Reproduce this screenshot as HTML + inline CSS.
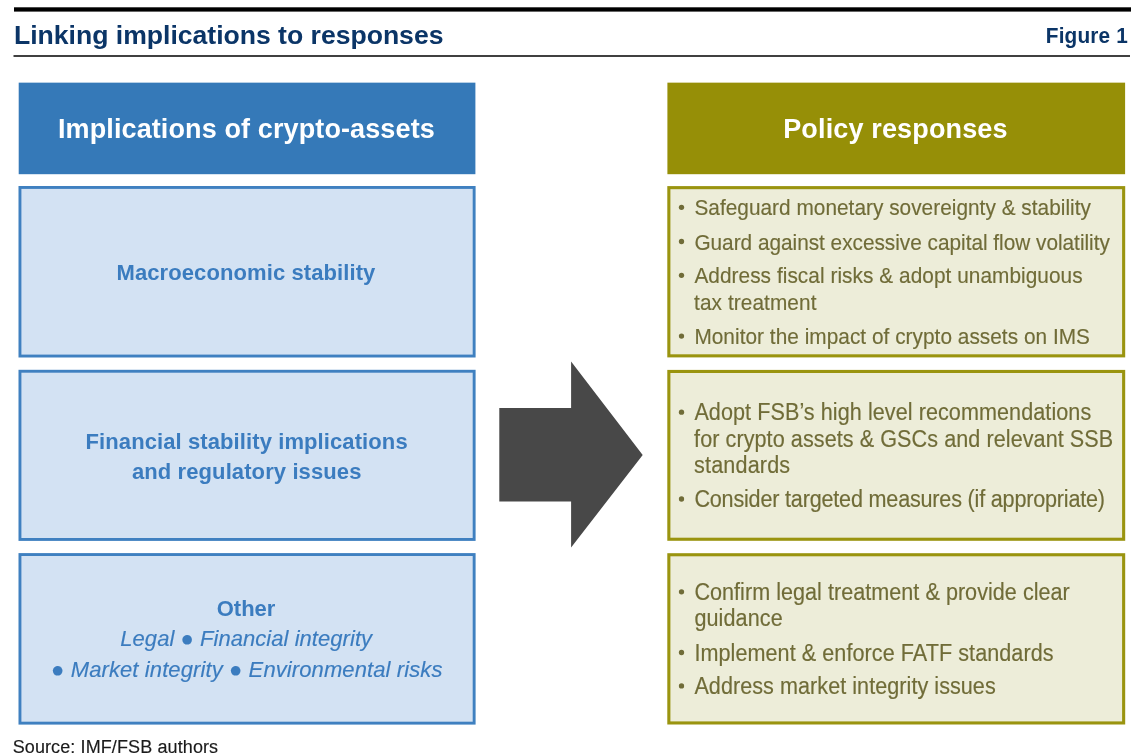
<!DOCTYPE html>
<html><head><meta charset="utf-8"><title>Linking implications to responses</title>
<style>
html,body{margin:0;padding:0;background:#fff;}
body{width:1140px;height:755px;overflow:hidden;}
svg{display:block;will-change:transform;font-family:"Liberation Sans",sans-serif;}
</style></head><body>
<svg width="1140" height="755" viewBox="0 0 1140 755">
<rect x="14.00" y="7.30" width="1117.00" height="4.30" fill="#000"/>
<rect x="13.50" y="55.00" width="1116.50" height="2.00" fill="#404040"/>
<rect x="18.70" y="82.65" width="456.70" height="91.55" fill="#3579b8"/>
<rect x="667.40" y="82.65" width="457.70" height="91.55" fill="#968f07"/>
<rect x="19.95" y="187.45" width="454.20" height="168.60" fill="#d3e2f3" stroke="#3f80c0" stroke-width="2.9"/>
<rect x="668.85" y="187.65" width="454.80" height="168.20" fill="#ededd9" stroke="#9a940f" stroke-width="3.1"/>
<rect x="19.95" y="371.25" width="454.20" height="168.20" fill="#d3e2f3" stroke="#3f80c0" stroke-width="2.9"/>
<rect x="668.85" y="371.45" width="454.80" height="167.80" fill="#ededd9" stroke="#9a940f" stroke-width="3.1"/>
<rect x="19.95" y="554.55" width="454.20" height="168.60" fill="#d3e2f3" stroke="#3f80c0" stroke-width="2.9"/>
<rect x="668.85" y="554.75" width="454.80" height="168.20" fill="#ededd9" stroke="#9a940f" stroke-width="3.1"/>
<polygon points="499.3,407.9 571.1,407.9 571.1,361.6 642.7,455.0 571.1,547.5 571.1,501.6 499.3,501.6" fill="#484848"/>
<text id="head" x="14.00" y="43.6" font-size="26.6" fill="#0b3567" font-weight="bold" textLength="429.47" lengthAdjust="spacing">Linking implications to responses</text>
<text id="fig" x="1045.80" y="43.5" font-size="20.8" fill="#0b3567" font-weight="bold" textLength="82.01" lengthAdjust="spacing" transform="matrix(1,0,0,1.05,0,-2.175)">Figure 1</text>
<text id="lh" x="57.92" y="138.3" font-size="27" fill="#ffffff" font-weight="bold" textLength="376.84" lengthAdjust="spacing">Implications of crypto-assets</text>
<text id="ph" x="783.22" y="138.3" font-size="27" fill="#ffffff" font-weight="bold" textLength="224.35" lengthAdjust="spacing">Policy responses</text>
<text id="l1" x="116.52" y="279.6" font-size="22" fill="#3b7cbf" font-weight="bold" textLength="258.82" lengthAdjust="spacing">Macroeconomic stability</text>
<text id="l2a" x="85.52" y="449.1" font-size="22" fill="#3b7cbf" font-weight="bold" textLength="322.14" lengthAdjust="spacing">Financial stability implications</text>
<text id="l2b" x="131.89" y="479.0" font-size="22" fill="#3b7cbf" font-weight="bold" textLength="229.53" lengthAdjust="spacing">and regulatory issues</text>
<text id="l3a" x="216.75" y="616.3" font-size="22" fill="#3b7cbf" font-weight="bold" textLength="58.67" lengthAdjust="spacing">Other</text>
<text id="l3b" x="120.28" y="646.2" font-size="22" fill="#3b7cbf" font-style="italic" stroke="#3b7cbf" stroke-width="0.15" textLength="251.76" lengthAdjust="spacing">Legal ● Financial integrity</text>
<text id="l3c" x="51.11" y="676.6" font-size="22" fill="#3b7cbf" font-style="italic" stroke="#3b7cbf" stroke-width="0.15" textLength="391.31" lengthAdjust="spacing">● Market integrity ● Environmental risks</text>
<text id="src" x="12.68" y="753.2" font-size="18" fill="#1a1a1a" stroke="#1a1a1a" stroke-width="0.15" textLength="205.42" lengthAdjust="spacing">Source: IMF/FSB authors</text>
<text id="r0" x="694.40" y="215.5" font-size="20.8" fill="#706c38" stroke="#706c38" stroke-width="0.15" textLength="396.54" lengthAdjust="spacing" transform="matrix(1,0,0,1.07,0,-15.085)">Safeguard monetary sovereignty &amp; stability</text>
<text id="r1" x="694.40" y="249.7" font-size="20.8" fill="#706c38" stroke="#706c38" stroke-width="0.15" textLength="415.48" lengthAdjust="spacing" transform="matrix(1,0,0,1.07,0,-17.479)">Guard against excessive capital flow volatility</text>
<text id="r2" x="694.40" y="283.5" font-size="20.8" fill="#706c38" stroke="#706c38" stroke-width="0.15" textLength="388.23" lengthAdjust="spacing" transform="matrix(1,0,0,1.07,0,-19.845)">Address fiscal risks &amp; adopt unambiguous</text>
<text id="r3" x="694.10" y="310.1" font-size="20.8" fill="#706c38" stroke="#706c38" stroke-width="0.15" textLength="122.35" lengthAdjust="spacing" transform="matrix(1,0,0,1.07,0,-21.707)">tax treatment</text>
<text id="r4" x="694.40" y="344.3" font-size="20.8" fill="#706c38" stroke="#706c38" stroke-width="0.15" textLength="395.61" lengthAdjust="spacing" transform="matrix(1,0,0,1.07,0,-24.101)">Monitor the impact of crypto assets on IMS</text>
<text id="r5" x="694.40" y="420.4" font-size="21.6" fill="#706c38" stroke="#706c38" stroke-width="0.15" textLength="396.78" lengthAdjust="spacing" transform="matrix(1,0,0,1.07,0,-29.428)">Adopt FSB’s high level recommendations</text>
<text id="r6" x="694.10" y="446.7" font-size="21.6" fill="#706c38" stroke="#706c38" stroke-width="0.15" textLength="419.14" lengthAdjust="spacing" transform="matrix(1,0,0,1.07,0,-31.269)">for crypto assets &amp; GSCs and relevant SSB</text>
<text id="r7" x="694.10" y="472.7" font-size="21.6" fill="#706c38" stroke="#706c38" stroke-width="0.15" textLength="96.08" lengthAdjust="spacing" transform="matrix(1,0,0,1.07,0,-33.089)">standards</text>
<text id="r8" x="694.40" y="507.2" font-size="21.6" fill="#706c38" stroke="#706c38" stroke-width="0.15" textLength="410.65" lengthAdjust="spacing" transform="matrix(1,0,0,1.07,0,-35.504)">Consider targeted measures (if appropriate)</text>
<text id="r9" x="694.40" y="600.0" font-size="21.6" fill="#706c38" stroke="#706c38" stroke-width="0.15" textLength="375.40" lengthAdjust="spacing" transform="matrix(1,0,0,1.07,0,-42.000)">Confirm legal treatment &amp; provide clear</text>
<text id="r10" x="694.40" y="626.0" font-size="21.6" fill="#706c38" stroke="#706c38" stroke-width="0.15" textLength="88.32" lengthAdjust="spacing" transform="matrix(1,0,0,1.07,0,-43.820)">guidance</text>
<text id="r11" x="694.40" y="660.7" font-size="21.6" fill="#706c38" stroke="#706c38" stroke-width="0.15" textLength="359.12" lengthAdjust="spacing" transform="matrix(1,0,0,1.07,0,-46.249)">Implement &amp; enforce FATF standards</text>
<text id="r12" x="694.40" y="694.1" font-size="21.6" fill="#706c38" stroke="#706c38" stroke-width="0.15" textLength="301.34" lengthAdjust="spacing" transform="matrix(1,0,0,1.07,0,-48.587)">Address market integrity issues</text>
<circle cx="681.5" cy="207.30" r="2.65" fill="#706c38"/>
<circle cx="681.5" cy="241.50" r="2.65" fill="#706c38"/>
<circle cx="681.5" cy="275.30" r="2.65" fill="#706c38"/>
<circle cx="681.5" cy="336.10" r="2.65" fill="#706c38"/>
<circle cx="681.5" cy="412.20" r="2.65" fill="#706c38"/>
<circle cx="681.5" cy="499.00" r="2.65" fill="#706c38"/>
<circle cx="681.5" cy="591.80" r="2.65" fill="#706c38"/>
<circle cx="681.5" cy="652.50" r="2.65" fill="#706c38"/>
<circle cx="681.5" cy="685.90" r="2.65" fill="#706c38"/>
</svg>
</body></html>
